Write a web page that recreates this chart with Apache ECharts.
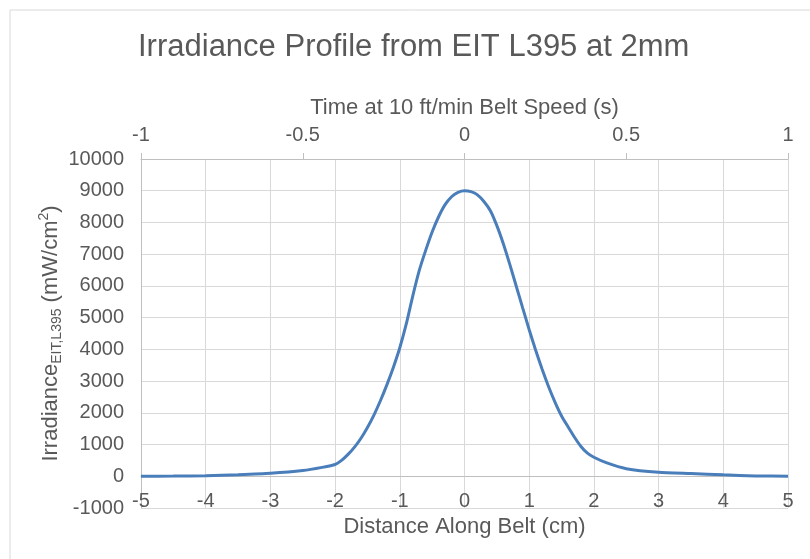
<!DOCTYPE html>
<html>
<head>
<meta charset="utf-8">
<script src="https://cdn.jsdelivr.net/npm/echarts@6/dist/echarts.min.js"></script>
<style>
  html, body { margin: 0; padding: 0; background: #fff; }
  #chart { width: 810px; height: 559px; }
</style>
</head>
<body>
<div id="chart"></div>
<script>
// distance along belt (cm) and irradiance (mW/cm2)
var distance = [-5, -4.5, -4, -3.5, -3, -2.5, -2.2, -2, -1.9, -1.8, -1.7, -1.6, -1.5, -1.4, -1.3, -1.2, -1.1,
  -1, -0.9, -0.8, -0.7, -0.6, -0.5, -0.4, -0.3, -0.2, -0.1, 0,
  0.1, 0.2, 0.3, 0.4, 0.5, 0.6, 0.7, 0.8, 0.9, 1, 1.1, 1.2, 1.3, 1.4, 1.5, 1.6, 1.7, 1.8, 1.9,
  2, 2.2, 2.5, 3, 3.5, 4, 4.5, 5];
var irradiance = [0, 5, 15, 50, 95, 180, 280, 370, 500, 690, 920, 1200, 1540, 1930, 2380, 2880, 3430,
  4050, 4800, 5680, 6480, 7120, 7700, 8180, 8560, 8810, 8950, 9000,
  8970, 8870, 8660, 8370, 7900, 7330, 6680, 5990, 5300, 4620, 3970, 3370, 2820, 2330, 1900, 1560, 1230, 940, 730,
  600, 420, 240, 125, 85, 45, 12, 0];
var timeRange = [-1, 1];   // top axis (s)
var yRange = [-1000, 10000];

var points = distance.map(function (d, i) { return [d, irradiance[i]]; });

var txt = '#595959';
var gridCol = '#d9d9d9';
var gridTop = 159, gridBottom = 51, H = 559;
var plotH = H - gridTop - gridBottom;
// shift the distance axis up so it sits on y = 0, as in the original
var zeroOffset = -plotH * (0 - yRange[0]) / (yRange[1] - yRange[0]);

var myChart = echarts.init(document.getElementById('chart'));
var option = {
  animation: false,
  backgroundColor: '#fff',
  graphic: [{
    type: 'rect',
    shape: { x: 10, y: 10, width: 900, height: 700 },
    style: { fill: 'none', stroke: '#d9d9d9', lineWidth: 1 },
    silent: true
  }],
  title: {
    text: 'Irradiance Profile from EIT L395 at 2mm',
    left: 133,
    top: 27,
    textStyle: { fontFamily: 'Liberation Sans', fontSize: 31, fontWeight: 'normal', color: txt }
  },
  grid: { left: 141, right: 22, top: gridTop, bottom: gridBottom, containLabel: false, outerBoundsMode: 'none' },
  xAxis: [{
    type: 'value',
    position: 'bottom',
    offset: zeroOffset,
    min: -5, max: 5, interval: 1,
    axisLine: { onZero: false, lineStyle: { color: '#bfbfbf' } },
    axisTick: { show: false },
    axisLabel: { margin: 15, fontFamily: 'Liberation Sans', fontSize: 20, color: txt },
    splitLine: { show: true, lineStyle: { color: gridCol } },
    name: 'Distance Along Belt (cm)',
    nameLocation: 'middle',
    nameGap: 40,
    nameTextStyle: { fontFamily: 'Liberation Sans', fontSize: 22, color: txt }
  }, {
    type: 'value',
    position: 'top',
    min: timeRange[0], max: timeRange[1], interval: 0.5,
    axisLine: { show: true, onZero: false, lineStyle: { color: '#bfbfbf' } },
    axisTick: { show: true, inside: false, length: 6, lineStyle: { color: '#bfbfbf' } },
    axisLabel: { margin: 14, fontFamily: 'Liberation Sans', fontSize: 20, color: txt },
    splitLine: { show: false },
    name: 'Time at 10 ft/min Belt Speed (s)',
    nameLocation: 'middle',
    nameGap: 40,
    nameTextStyle: { fontFamily: 'Liberation Sans', fontSize: 22, color: txt }
  }],
  yAxis: {
    type: 'value',
    min: yRange[0], max: yRange[1], interval: 1000,
    axisLine: { show: true, onZero: false, lineStyle: { color: '#bfbfbf' } },
    axisTick: { show: false },
    axisLabel: {
      margin: 17, fontFamily: 'Liberation Sans', fontSize: 20, color: txt,
      formatter: function (v) { return String(v); }
    },
    splitLine: { show: true, lineStyle: { color: gridCol } },
    name: '{b|Irradiance}{sub|EIT,L395}{b| (mW/cm}{sup|2}{b|)}',
    nameLocation: 'middle',
    nameGap: 77,
    nameMoveOverlap: false,
    nameTextStyle: {
      color: txt,
      rich: {
        b: { fontFamily: 'Liberation Sans', fontSize: 22, color: txt, lineHeight: 27, verticalAlign: 'middle' },
        sub: { fontFamily: 'Liberation Sans', fontSize: 14, color: txt, lineHeight: 14, verticalAlign: 'bottom' },
        sup: { fontFamily: 'Liberation Sans', fontSize: 14, color: txt, lineHeight: 14, verticalAlign: 'top' }
      }
    }
  },
  series: [{
    type: 'line',
    xAxisIndex: 0,
    data: points,
    smooth: 0.2,
    showSymbol: false,
    lineStyle: { color: '#4a7ebb', width: 3 },
    itemStyle: { color: '#4a7ebb' }
  }]
};
myChart.setOption(option);
</script>
</body>
</html>
